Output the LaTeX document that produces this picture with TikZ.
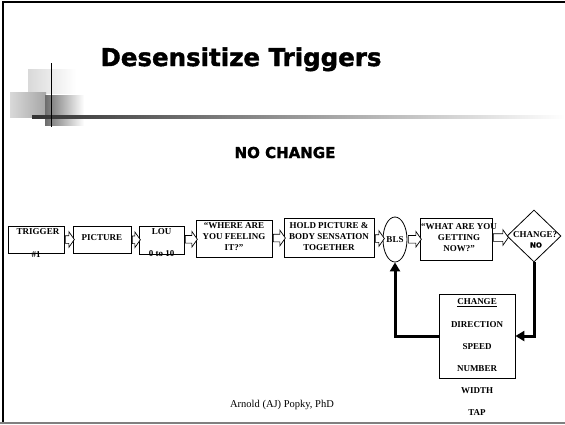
\documentclass[tikz,border=0pt]{standalone}
\usepackage{fontspec}
\setmainfont{Liberation Serif}
\newfontfamily\headfont{DejaVu Sans}[UprightFont={* Bold}, FakeBold=1.6]
\usetikzlibrary{shapes.geometric,shapes.arrows,arrows.meta}

\tikzset{
  box/.style   = {draw, line width=0.8pt, inner sep=0pt},
  txt/.style   = {font=\fontsize{9}{11}\selectfont\bfseries, align=center, inner sep=0pt},
  blk/.style   = {single arrow, draw, line width=0.7pt, fill=white, inner xsep=0pt,
                  inner ysep=3.5pt, minimum width=15pt, single arrow head extend=4pt,
                  single arrow tip angle=110, minimum height=#1},
  backline/.style = {line width=3pt, -{Triangle[length=9pt,width=10pt]}},
}

\begin{document}
\begin{tikzpicture}[x=1pt, y=-1pt]
  \useasboundingbox (0,0) rectangle (565,424);
  % slide frame
  \draw[line width=2pt] (3,424) -- (3,2) -- (565,2);
  \draw[gray, line width=1.5pt] (0,423) -- (565,423);

  % corner decoration
  \shade[left color=gray!30, right color=white] (28,69) rectangle (76,93);
  \shade[left color=gray!30, right color=gray!70] (10,92) rectangle (46,117);
  \shade[left color=gray!85!black, right color=white] (45,95) rectangle (84,125);
  \shade[left color=black!80, middle color=gray!85, right color=white] (32,115) rectangle (565,118);
  \draw[line width=0.8pt] (51,63) -- (51,127);

  \node [anchor=base west, font=\headfont\fontsize{24.5}{28}\selectfont] (title) at (97,66) {Desensitize Triggers};
  \node [anchor=base, font=\headfont\fontsize{15}{17}\selectfont] (nochange) at (285,158) {NO CHANGE};

  % flow row
  \node [box, minimum width=56pt, minimum height=27pt] (trigger) at (36,239.5) {};
  \node [box, minimum width=58pt, minimum height=27pt] (picture) at (102,239.5) {};
  \node [box, minimum width=45pt, minimum height=28pt] (lou)     at (161.5,240) {};
  \node [box, minimum width=76pt, minimum height=37pt] (where)   at (234,238.5) {};
  \node [box, minimum width=90pt, minimum height=39pt] (hold)    at (329,237.5) {};
  \node [box, ellipse, minimum width=24pt, minimum height=45pt] (bls) at (395,239.5) {};
  \node [box, minimum width=72pt, minimum height=42pt] (what)    at (456,239) {};
  \node [box, diamond, minimum width=54pt, minimum height=52pt] (change) at (534,236) {};

  \node [txt] (triggertxt) at (38,232)    {TRIGGER};
  \node [txt] (triggerno)  at (36,255)    {\#1};
  \node [txt] (picturetxt) at (102,238)   {PICTURE};
  \node [txt] (loutxt)     at (161.5,232) {LOU};
  \node [txt] (louscale)   at (161.5,254) {0 to 10};
  \node [txt] (wheretxt)   at (234,236.5) {“WHERE ARE\\YOU FEELING\\IT?”};
  \node [txt] (holdtxt)    at (329,237)   {HOLD PICTURE \&\\BODY SENSATION\\TOGETHER};
  \node [txt] (blstxt)     at (395,239.5) {BLS};
  \node [txt] (whattxt)    at (459,237.5) {“WHAT ARE YOU\\GETTING\\NOW?”};
  \node [txt] (changetxt)  at (535,235)   {CHANGE?};
  \node [font=\headfont\fontsize{7}{8}\selectfont, inner sep=0pt] (changeno) at (536,245) {NO};

  % hollow arrows
  \path (trigger.east) -- node[blk=9pt]  {} (picture.west);
  \path (picture.east) -- node[blk=8pt]  {} (lou.west);
  \path (lou.east)     -- node[blk=12pt] {} (where.west);
  \path (where.east)   -- node[blk=12pt] {} (hold.west);
  \path (hold.east)    -- node[blk=9pt]  {} (bls.west);
  \path (bls.east)     -- node[blk=13pt] {} (what.west);
  \path (what.east)    -- node[blk=15pt] {} (change.west);

  % options box
  \node [box, minimum width=76pt, minimum height=84pt] (opts) at (477,336) {};
  \node [txt] (optshead) at (477,303) {\underline{CHANGE}};
  \foreach \opt [count=\i] in {DIRECTION, SPEED, NUMBER, WIDTH, TAP}
    \node [txt] (opt\i) at (477,303+22*\i) {\opt};

  \draw [backline] (change.south) -- (change.south |- opts.east) -- (opts.east);
  \draw [backline] (opts.west) -| (bls.south);

  \node [font=\fontsize{10.5}{12}\selectfont] (author) at (282,405) {Arnold (AJ) Popky, PhD};
\end{tikzpicture}
\end{document}
